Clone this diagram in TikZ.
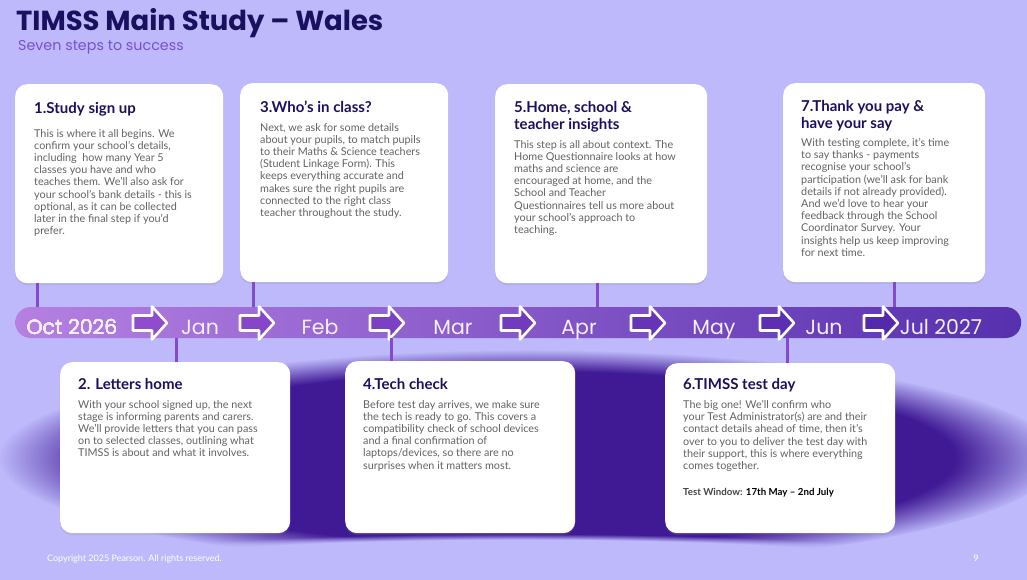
\documentclass[tikz,border=0pt]{standalone}
\usepackage{fontspec}
\setmainfont{Lato}
\newfontfamily\headfont{Poppins}
\usetikzlibrary{calc,fadings,shadows}
\definecolor{panel}{HTML}{BDB9FB}
\definecolor{ink}{HTML}{1A1060}
\definecolor{subink}{HTML}{7A4FD3}
\definecolor{bodygray}{HTML}{636363}
\definecolor{barleft}{HTML}{B680E2}
\definecolor{barright}{HTML}{5630AE}
\definecolor{arrowleft}{HTML}{9A52D4}
\definecolor{arrowright}{HTML}{4A22A6}
\definecolor{tickpurple}{HTML}{8549CC}
\definecolor{blobdark}{HTML}{3A1290}
\definecolor{monthtext}{HTML}{F5EEFF}
\tikzset{
  card/.style={fill=white, rounded corners=12pt, inner sep=0pt,
    drop shadow={opacity=.18, shadow xshift=0pt, shadow yshift=-2pt}},
  steptitle/.style={inner sep=0pt, align=left, text=ink,
    font=\bfseries\fontsize{15}{17}\selectfont},
  stepbody/.style={inner sep=0pt, align=left, text=bodygray,
    font=\fontsize{10.8}{12.2}\selectfont},
  timeline/.style={left color=barleft, right color=barright,
    rounded corners=15.5pt, inner sep=0pt},
  month/.style={inner sep=0pt, text=monthtext,
    font=\headfont\fontsize{20.5}{22}\selectfont},
  steptick/.style={draw=tickpurple, line width=3pt},
  steparrow/.style={draw=white, line width=2.6pt, line join=round,
    drop shadow={opacity=.25, shadow xshift=1pt, shadow yshift=-1.5pt}},
  footer/.style={inner sep=0pt, text=white, font=\fontsize{9}{10}\selectfont}
}
% block arrow on the timeline: left x, share of the right colour
\newcommand{\StepArrow}[2]{%
  \draw[steparrow, fill=arrowright!#2!arrowleft] (#1,315.5) -- ++(19,0)
    -- ++(0,-9) -- ++(15,16.5) -- ++(-15,16.5) -- ++(0,-9) -- ++(-19,0) -- cycle;
}
% white card: name, north west corner, width, height
\newcommand{\StepCard}[4]{%
  \node[card, anchor=north west, minimum width=#3, minimum height=#4] (#1) at #2 {};
}

\begin{document}
\begin{tikzpicture}[x=1pt,y=-1pt]
  \useasboundingbox (0,0) rectangle (1027,580);
  \clip (0,0) rectangle (1027,580);
  \fill[panel] (0,0) rectangle (1027,580);
  \fill[blobdark, opacity=.95, path fading=circle with fuzzy edge 20 percent]
    (530,458) ellipse [x radius=530, y radius=108];
  \fill[panel, path fading=circle with fuzzy edge 20 percent]
    (520,562) ellipse [x radius=450, y radius=28];

  \node[anchor=base west, inner sep=0pt, text=ink,
    font=\headfont\bfseries\fontsize{27.5}{30}\selectfont] (title) at (16,31)
    {TIMSS Main Study – Wales};
  \node[anchor=base west, inner sep=0pt, text=subink,
    font=\headfont\fontsize{14.3}{16}\selectfont] (subtitle) at (18,51)
    {Seven steps to success};

  % ------------------------------------------------------------------
  % timeline
  \node[timeline, anchor=west, minimum width=1006, minimum height=31] (tl) at (15,322.5) {};
  \foreach \ax/\ap in {133/13, 240/24, 370/37, 501/50, 631/63, 760/76, 864/86}
    \StepArrow{\ax}{\ap}
  \node[month, anchor=base] (m1) at (72,334) {Oct 2026};
  \node[month, anchor=base] (m2) at (200,334) {Jan};
  \node[month, anchor=base] (m3) at (320,334) {Feb};
  \node[month, anchor=base] (m4) at (453,334) {Mar};
  \node[month, anchor=base] (m5) at (579,334) {Apr};
  \node[month, anchor=base] (m6) at (714,334) {May};
  \node[month, anchor=base] (m7) at (824,334) {Jun};
  \node[month, anchor=base] (m8) at (941,334) {Jul 2027};

  % ------------------------------------------------------------------
  % cards above the line
  \StepCard{c1}{(15,84)}{208}{199}
  \node[steptitle, anchor=north west] (h1) at ($(c1.north west)+(19,18)$) {1.Study sign up};
  \node[stepbody, anchor=north west] (b1) at ($(c1.north west)+(19,45)$)
    {This is where it all begins. We\\confirm your school’s details,\\including \ how many Year 5\\classes you have and who\\teaches them. We’ll also ask for\\your school’s bank details - this is\\optional, as it can be collected\\later in the final step if you’d\\prefer.};

  \StepCard{c3}{(240,83)}{208}{199}
  \node[steptitle, anchor=north west] (h3) at ($(c3.north west)+(20,18)$) {3.Who’s in class?};
  \node[stepbody, anchor=north west] (b3) at ($(c3.north west)+(20,40)$)
    {Next, we ask for some details\\about your pupils, to match pupils\\to their Maths \& Science teachers\\(Student Linkage Form). This\\keeps everything accurate and\\makes sure the right pupils are\\connected to the right class\\teacher throughout the study.};

  \StepCard{c5}{(495,84)}{212}{199}
  \node[steptitle, anchor=north west] (h5) at ($(c5.north west)+(19,17)$) {5.Home, school \&\\teacher insights};
  \node[stepbody, anchor=north west] (b5) at ($(c5.north west)+(19,56)$)
    {This step is all about context. The\\Home Questionnaire looks at how\\maths and science are\\encouraged at home, and the\\School and Teacher\\Questionnaires tell us more about\\your school’s approach to\\teaching.};

  \StepCard{c7}{(783,83)}{202}{199}
  \node[steptitle, anchor=north west] (h7) at ($(c7.north west)+(18,17)$) {7.Thank you pay \&\\have your say};
  \node[stepbody, anchor=north west] (b7) at ($(c7.north west)+(18,55)$)
    {With testing complete, it’s time\\to say thanks - payments\\recognise your school’s\\participation (we’ll ask for bank\\details if not already provided).\\And we’d love to hear your\\feedback through the School\\Coordinator Survey. Your\\insights help us keep improving\\for next time.};

  % ------------------------------------------------------------------
  % cards below the line
  \StepCard{c2}{(60,362)}{230}{171}
  \node[steptitle, anchor=north west] (h2) at ($(c2.north west)+(18,16)$) {2. Letters home};
  \node[stepbody, anchor=north west] (b2) at ($(c2.north west)+(18,38)$)
    {With your school signed up, the next\\stage is informing parents and carers.\\We’ll provide letters that you can pass\\on to selected classes, outlining what\\TIMSS is about and what it involves.};

  \StepCard{c4}{(345,361)}{230}{172}
  \node[steptitle, anchor=north west] (h4) at ($(c4.north west)+(18,17)$) {4.Tech check};
  \node[stepbody, anchor=north west] (b4) at ($(c4.north west)+(18,39)$)
    {Before test day arrives, we make sure\\the tech is ready to go. This covers a\\compatibility check of school devices\\and a final confirmation of\\laptops/devices, so there are no\\surprises when it matters most.};

  \StepCard{c6}{(665,363)}{230}{170}
  \node[steptitle, anchor=north west] (h6) at ($(c6.north west)+(18,15)$) {6.TIMSS test day};
  \node[stepbody, anchor=north west] (b6) at ($(c6.north west)+(18,37)$)
    {The big one! We’ll confirm who\\your Test Administrator(s) are and their\\contact details ahead of time, then it’s\\over to you to deliver the test day with\\their support, this is where everything\\comes together.};
  \node[inner sep=0pt, anchor=base west, font=\fontsize{9.7}{11}\selectfont] (w6)
    at ($(c6.north west)+(18,132)$)
    {\textcolor{bodygray!70!black}{\bfseries Test Window:} \textcolor{black}{\bfseries 17th May – 2nd July}};

  % ------------------------------------------------------------------
  % ticks from the cards to the line
  \draw[steptick] ($(c1.south west)+(22,0)$) coordinate (t1) -- (t1 |- tl.north);
  \draw[steptick] ($(c3.south west)+(13,0)$) coordinate (t3) -- (t3 |- tl.north);
  \draw[steptick] ($(c5.south west)+(102,0)$) coordinate (t5) -- (t5 |- tl.north);
  \draw[steptick] ($(c7.south west)+(111,0)$) coordinate (t7) -- (t7 |- tl.north);
  \draw[steptick] ($(c2.north west)+(116,0)$) coordinate (t2) -- (t2 |- tl.south);
  \draw[steptick] ($(c4.north west)+(46,0)$) coordinate (t4) -- (t4 |- tl.south);
  \draw[steptick] ($(c6.north west)+(122,0)$) coordinate (t6) -- (t6 |- tl.south);

  \node[footer, anchor=base west] (copy) at (47,561) {Copyright 2025 Pearson. All rights reserved.};
  \node[footer, anchor=base] (page) at (976,561) {9};
\end{tikzpicture}
\end{document}
